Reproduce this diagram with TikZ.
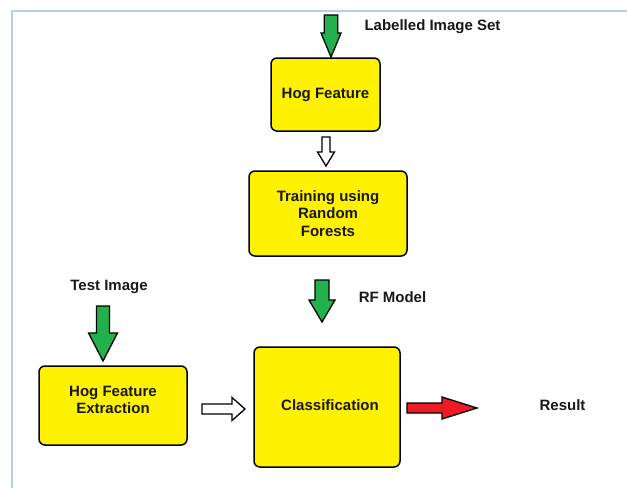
\documentclass[tikz,border=0pt]{standalone}
\usepackage{fontspec}
\setmainfont{Liberation Sans}
\definecolor{boxyellow}{HTML}{FFF200}
\definecolor{argreen}{HTML}{22B14C}
\definecolor{arred}{HTML}{ED1C24}
\definecolor{frameblue}{HTML}{B4CDE8}
\newcommand\dnblock[7]{% color, cx, top, bottom, shaft half, head half, head length
  \draw[arrowline,fill=#1] (#2-#5,#3) -- (#2+#5,#3) -- (#2+#5,#4-#7) -- (#2+#6,#4-#7) -- (#2,#4)
    -- (#2-#6,#4-#7) -- (#2-#5,#4-#7) -- cycle;}
\newcommand\rtblock[7]{% color, cy, left, right, shaft half, head half, head length
  \draw[arrowline,fill=#1] (#3,#2-#5) -- (#4-#7,#2-#5) -- (#4-#7,#2-#6) -- (#4,#2)
    -- (#4-#7,#2+#6) -- (#4-#7,#2+#5) -- (#3,#2+#5) -- cycle;}
\begin{document}
\begin{tikzpicture}[x=1pt,y=-1pt,
  box/.style={draw=black,line width=1.5pt,fill=boxyellow,rounded corners=6pt,
    align=center,font=\fontsize{15}{17.5}\selectfont\bfseries,text=black!90},
  txt/.style={align=center,font=\fontsize{15}{17.5}\selectfont\bfseries,text=black!90,inner sep=0pt},
  arrowline/.style={draw=black,line width=1.3pt,line join=miter}]
\useasboundingbox (0,0) rectangle (627,488);
\fill[white] (0,0) rectangle (627,488);
\draw[frameblue,line width=1.6pt] (12,488) -- (12,11) -- (627,11);

% boxes
\node[box,minimum width=109pt,minimum height=73pt] (hog) at (325.5,94.5) {Hog Feature};
\node[box,minimum width=158pt,minimum height=85pt] (train) at (328,213.5) {Training using\\Random\\Forests};
\node[box,minimum width=148pt,minimum height=79pt] (hfe) at (113,405.5) {};
\node[txt] (hfetext) at (113,400) {Hog Feature\\Extraction};
\node[box,minimum width=146pt,minimum height=120pt] (cls) at (327,407) {};
\node[txt] (clstext) at (330,405) {Classification};

% labels
\node[txt] (lis) at (432.5,27) {Labelled Image Set};
\node[txt] (rfm) at (392.5,297) {RF Model};
\node[txt] (testimg) at (109,287) {Test Image};
\node[txt] (result) at (562.5,405) {Result};

% block arrows
\dnblock{argreen}{331}{15}{57}{6.7}{10}{24}
\dnblock{white}{326}{137}{166}{4}{8.5}{14}
\dnblock{argreen}{322}{280}{322}{7}{13}{22}
\dnblock{argreen}{103}{306}{361}{6.5}{14.5}{28}
\rtblock{white}{409}{202}{245}{5}{11.5}{13}
\rtblock{arred}{408}{407}{477}{5}{11}{35}
\end{tikzpicture}
\end{document}
